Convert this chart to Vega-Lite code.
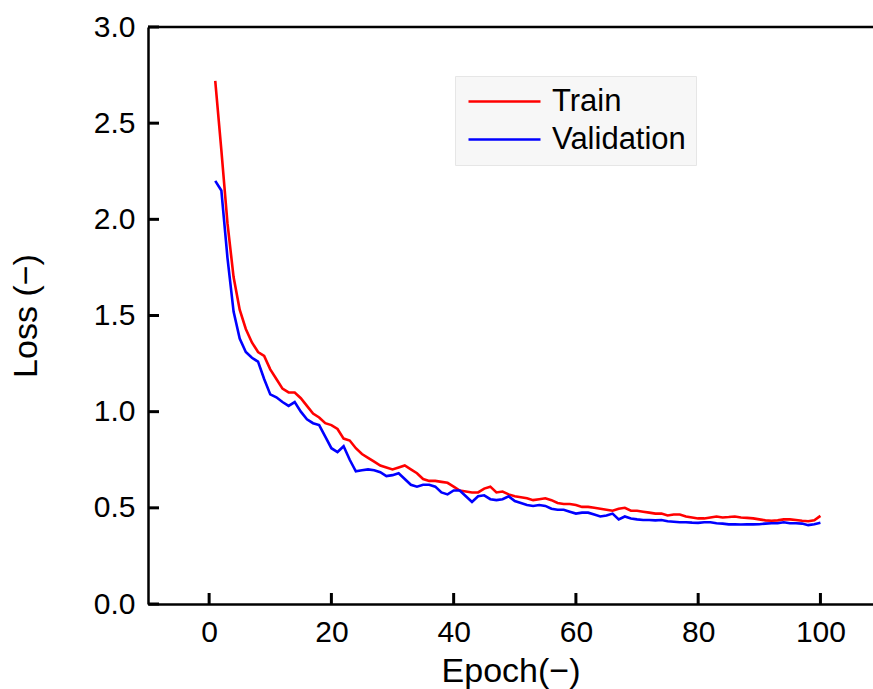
{
  "$schema": "https://vega.github.io/schema/vega-lite/v6.json",
  "autosize": {"type": "none"},
  "padding": {"left": 148, "top": 27, "right": 0, "bottom": 85},
  "width": 725,
  "height": 577,
  "background": "white",
  "config": {
    "view": {"stroke": null},
    "axis": {
      "grid": false,
      "labelFont": "Liberation Sans",
      "labelFontSize": 30,
      "labelColor": "black",
      "titleFont": "Liberation Sans",
      "titleFontSize": 34,
      "titleFontWeight": "normal",
      "titleColor": "black",
      "domainColor": "black",
      "domainWidth": 2.5,
      "ticks": false,
      "labelPadding": 13
    },
    "legend": {
      "labelFont": "Liberation Sans",
      "labelFontSize": 31,
      "labelColor": "black"
    }
  },
  "resolve": {"axis": {"x": "independent", "y": "independent"}},
  "layer": [
    {
      "data": {"values": [{"ytop": 3}]},
      "mark": {"type": "rule", "color": "black", "strokeWidth": 2.5},
      "encoding": {
        "y": {"field": "ytop", "type": "quantitative", "scale": {"domain": [0, 3], "nice": false}, "axis": null}
      }
    },
    {
      "data": {"values": [{"v": 0}, {"v": 0.5}, {"v": 1}, {"v": 1.5}, {"v": 2}, {"v": 2.5}, {"v": 3}]},
      "mark": {"type": "tick", "orient": "horizontal", "color": "black", "size": 11, "thickness": 3, "xOffset": 5.5, "opacity": 1},
      "encoding": {
        "x": {"datum": -10, "type": "quantitative", "scale": {"domain": [-10, 108.6], "nice": false, "zero": false}, "axis": null},
        "y": {"field": "v", "type": "quantitative", "scale": {"domain": [0, 3], "nice": false}, "axis": null}
      }
    },
    {
      "data": {"values": [{"v": 0}, {"v": 20}, {"v": 40}, {"v": 60}, {"v": 80}, {"v": 100}]},
      "mark": {"type": "tick", "orient": "vertical", "color": "black", "size": 11, "thickness": 3, "yOffset": -5.5, "opacity": 1},
      "encoding": {
        "x": {"field": "v", "type": "quantitative", "scale": {"domain": [-10, 108.6], "nice": false, "zero": false}, "axis": null},
        "y": {"datum": 0, "type": "quantitative", "scale": {"domain": [0, 3], "nice": false}, "axis": null}
      }
    },
    {
      "data": {"values": [
        {"epoch":1,"Train":2.72,"Validation":2.20},
        {"epoch":2,"Train":2.36,"Validation":2.15},
        {"epoch":3,"Train":1.98,"Validation":1.80},
        {"epoch":4,"Train":1.70,"Validation":1.52},
        {"epoch":5,"Train":1.53,"Validation":1.38},
        {"epoch":6,"Train":1.43,"Validation":1.31},
        {"epoch":7,"Train":1.36,"Validation":1.28},
        {"epoch":8,"Train":1.31,"Validation":1.26},
        {"epoch":9,"Train":1.29,"Validation":1.17},
        {"epoch":10,"Train":1.22,"Validation":1.09},
        {"epoch":11,"Train":1.17,"Validation":1.075},
        {"epoch":12,"Train":1.12,"Validation":1.05},
        {"epoch":13,"Train":1.10,"Validation":1.03},
        {"epoch":14,"Train":1.10,"Validation":1.05},
        {"epoch":15,"Train":1.07,"Validation":1.00},
        {"epoch":16,"Train":1.03,"Validation":0.96},
        {"epoch":17,"Train":0.99,"Validation":0.94},
        {"epoch":18,"Train":0.97,"Validation":0.93},
        {"epoch":19,"Train":0.94,"Validation":0.87},
        {"epoch":20,"Train":0.93,"Validation":0.81},
        {"epoch":21,"Train":0.91,"Validation":0.79},
        {"epoch":22,"Train":0.86,"Validation":0.82},
        {"epoch":23,"Train":0.85,"Validation":0.75},
        {"epoch":24,"Train":0.81,"Validation":0.69},
        {"epoch":25,"Train":0.78,"Validation":0.695},
        {"epoch":26,"Train":0.76,"Validation":0.70},
        {"epoch":27,"Train":0.74,"Validation":0.695},
        {"epoch":28,"Train":0.72,"Validation":0.685},
        {"epoch":29,"Train":0.71,"Validation":0.665},
        {"epoch":30,"Train":0.70,"Validation":0.67},
        {"epoch":31,"Train":0.71,"Validation":0.68},
        {"epoch":32,"Train":0.72,"Validation":0.65},
        {"epoch":33,"Train":0.70,"Validation":0.62},
        {"epoch":34,"Train":0.68,"Validation":0.61},
        {"epoch":35,"Train":0.65,"Validation":0.62},
        {"epoch":36,"Train":0.64,"Validation":0.62},
        {"epoch":37,"Train":0.64,"Validation":0.61},
        {"epoch":38,"Train":0.635,"Validation":0.58},
        {"epoch":39,"Train":0.63,"Validation":0.57},
        {"epoch":40,"Train":0.61,"Validation":0.59},
        {"epoch":41,"Train":0.59,"Validation":0.59},
        {"epoch":42,"Train":0.585,"Validation":0.56},
        {"epoch":43,"Train":0.58,"Validation":0.53},
        {"epoch":44,"Train":0.58,"Validation":0.56},
        {"epoch":45,"Train":0.60,"Validation":0.565},
        {"epoch":46,"Train":0.61,"Validation":0.545},
        {"epoch":47,"Train":0.58,"Validation":0.54},
        {"epoch":48,"Train":0.585,"Validation":0.545},
        {"epoch":49,"Train":0.57,"Validation":0.56},
        {"epoch":50,"Train":0.56,"Validation":0.535},
        {"epoch":51,"Train":0.555,"Validation":0.525},
        {"epoch":52,"Train":0.55,"Validation":0.515},
        {"epoch":53,"Train":0.54,"Validation":0.51},
        {"epoch":54,"Train":0.545,"Validation":0.515},
        {"epoch":55,"Train":0.55,"Validation":0.51},
        {"epoch":56,"Train":0.54,"Validation":0.495},
        {"epoch":57,"Train":0.525,"Validation":0.49},
        {"epoch":58,"Train":0.52,"Validation":0.49},
        {"epoch":59,"Train":0.52,"Validation":0.48},
        {"epoch":60,"Train":0.515,"Validation":0.47},
        {"epoch":61,"Train":0.505,"Validation":0.475},
        {"epoch":62,"Train":0.505,"Validation":0.475},
        {"epoch":63,"Train":0.50,"Validation":0.465},
        {"epoch":64,"Train":0.495,"Validation":0.455},
        {"epoch":65,"Train":0.49,"Validation":0.46},
        {"epoch":66,"Train":0.485,"Validation":0.47},
        {"epoch":67,"Train":0.495,"Validation":0.44},
        {"epoch":68,"Train":0.50,"Validation":0.455},
        {"epoch":69,"Train":0.485,"Validation":0.445},
        {"epoch":70,"Train":0.485,"Validation":0.44},
        {"epoch":71,"Train":0.48,"Validation":0.437},
        {"epoch":72,"Train":0.475,"Validation":0.437},
        {"epoch":73,"Train":0.47,"Validation":0.435},
        {"epoch":74,"Train":0.47,"Validation":0.437},
        {"epoch":75,"Train":0.46,"Validation":0.43},
        {"epoch":76,"Train":0.465,"Validation":0.428},
        {"epoch":77,"Train":0.465,"Validation":0.425},
        {"epoch":78,"Train":0.455,"Validation":0.425},
        {"epoch":79,"Train":0.45,"Validation":0.423},
        {"epoch":80,"Train":0.445,"Validation":0.422},
        {"epoch":81,"Train":0.445,"Validation":0.425},
        {"epoch":82,"Train":0.45,"Validation":0.425},
        {"epoch":83,"Train":0.455,"Validation":0.42},
        {"epoch":84,"Train":0.45,"Validation":0.418},
        {"epoch":85,"Train":0.452,"Validation":0.414},
        {"epoch":86,"Train":0.455,"Validation":0.414},
        {"epoch":87,"Train":0.45,"Validation":0.413},
        {"epoch":88,"Train":0.448,"Validation":0.414},
        {"epoch":89,"Train":0.445,"Validation":0.414},
        {"epoch":90,"Train":0.44,"Validation":0.415},
        {"epoch":91,"Train":0.435,"Validation":0.418},
        {"epoch":92,"Train":0.433,"Validation":0.42},
        {"epoch":93,"Train":0.435,"Validation":0.42},
        {"epoch":94,"Train":0.44,"Validation":0.425},
        {"epoch":95,"Train":0.44,"Validation":0.42},
        {"epoch":96,"Train":0.437,"Validation":0.42},
        {"epoch":97,"Train":0.433,"Validation":0.418},
        {"epoch":98,"Train":0.43,"Validation":0.41},
        {"epoch":99,"Train":0.435,"Validation":0.415},
        {"epoch":100,"Train":0.458,"Validation":0.423}
      ]},
      "transform": [{"fold": ["Train", "Validation"], "as": ["set", "loss"]}],
      "mark": {"type": "line", "strokeWidth": 2.6},
      "encoding": {
        "x": {
          "field": "epoch", "type": "quantitative",
          "scale": {"domain": [-10, 108.6], "nice": false, "zero": false},
          "axis": {"orient": "bottom", "values": [0, 20, 40, 60, 80, 100], "title": "Epoch(−)", "titlePadding": 7}
        },
        "y": {
          "field": "loss", "type": "quantitative",
          "scale": {"domain": [0, 3], "nice": false},
          "axis": {"orient": "left", "values": [0, 0.5, 1, 1.5, 2, 2.5, 3], "format": ".1f", "title": "Loss (−)", "titlePadding": 50}
        },
        "color": {
          "field": "set", "type": "nominal",
          "scale": {"domain": ["Train", "Validation"], "range": ["#ff0000", "#0000ff"]},
          "legend": {
            "title": null,
            "orient": "none",
            "legendX": 307,
            "legendY": 49,
            "padding": 10,
            "fillColor": "#f7f7f7",
            "strokeColor": "#e6e6e6",
            "symbolType": "M-3,0H3",
            "symbolSize": 576,
            "symbolStrokeWidth": 2.6,
            "symbolOffset": 24,
            "labelOffset": 32,
            "rowPadding": 6
          }
        }
      }
    }
  ]
}
